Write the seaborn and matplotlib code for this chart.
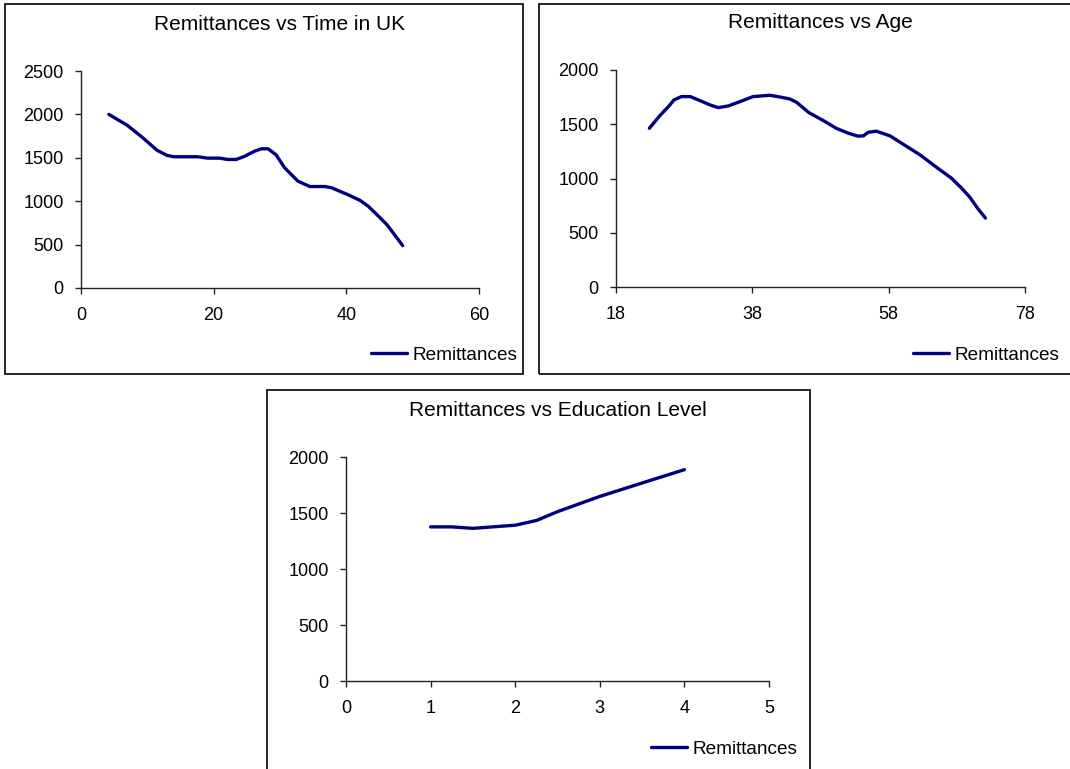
import matplotlib
matplotlib.use("Agg")
import matplotlib.pyplot as plt
from matplotlib.patches import Rectangle
from matplotlib.lines import Line2D
import seaborn as sns
import pandas as pd

# Remittances vs years spent in the UK
time_in_uk = [4.2, 7.0, 9.2, 11.5, 13.0, 14.0, 17.6, 19.1, 20.9, 22.1, 23.4, 24.6,
              26.2, 27.2, 28.2, 29.4, 30.7, 32.7, 34.5, 36.8, 37.8, 40.3, 42.1,
              43.3, 44.6, 46.1, 47.1, 48.5]
remit_time = [2000, 1873, 1738, 1585, 1527, 1512, 1512, 1496, 1496, 1481, 1481, 1515,
              1577, 1604, 1604, 1535, 1385, 1231, 1169, 1169, 1154, 1073, 1008,
              942, 846, 731, 631, 488]

# Remittances vs age of the sender
age = [22.9, 24.4, 25.7, 26.5, 27.6, 28.9, 30.3, 31.8, 33.0, 34.5, 36.2, 38.1,
       40.6, 42.3, 43.5, 44.5, 46.3, 48.5, 50.3, 52.1, 53.5, 54.3, 55.0, 56.2,
       58.2, 59.9, 62.6, 65.2, 67.2, 68.7, 69.9, 71.1, 72.2]
remit_age = [1463, 1577, 1663, 1724, 1755, 1755, 1718, 1678, 1653, 1669, 1709, 1755,
             1767, 1748, 1733, 1702, 1607, 1531, 1463, 1417, 1390, 1393, 1426, 1436,
             1393, 1325, 1218, 1095, 1003, 911, 828, 721, 635]

# Remittances vs education level
education = [1.0, 1.25, 1.5, 2.0, 2.25, 2.5, 3.0, 3.5, 4.0]
remit_edu = [1376, 1376, 1363, 1391, 1433, 1512, 1648, 1768, 1887]

titles = ["Remittances vs Time in UK", "Remittances vs Age", "Remittances vs Education Level"]
series_label = "Remittances"

W, H = 1070, 769
NAVY = "#000080"

sns.set_theme(style="white")
plt.rcParams["font.family"] = ["Liberation Sans", "DejaVu Sans"]
plt.rcParams["text.color"] = "#000000"

fig = plt.figure(figsize=(W / 100, H / 100), dpi=100)
fig.patch.set_facecolor("white")


def fx(px):
    return px / W


def fy(py):
    return (H - py) / H


def panel(box, axbox, x, y, xlim, xticks, ylim, yticks, title, legend_x, legend_y):
    # chart frame
    x0, y0, x1, y1 = box
    fig.patches.append(Rectangle((fx(x0), fy(y1)), fx(x1 - x0), (y1 - y0) / H,
                                 transform=fig.transFigure, fill=False,
                                 edgecolor="#000000", linewidth=1.2, zorder=0))
    l, t, r, b = axbox
    ax = fig.add_axes([fx(l), fy(b), fx(r - l), (b - t) / H])
    df = pd.DataFrame({"x": x, "y": y})
    sns.lineplot(data=df, x="x", y="y", ax=ax, color=NAVY, linewidth=2.4,
                 estimator=None, sort=False)
    ax.set_xlim(*xlim)
    ax.set_ylim(*ylim)
    ax.set_xticks(xticks)
    ax.set_yticks(yticks)
    ax.set_xlabel("")
    ax.set_ylabel("")
    for s in ("top", "right"):
        ax.spines[s].set_visible(False)
    for s in ("left", "bottom"):
        ax.spines[s].set_color("#222222")
        ax.spines[s].set_linewidth(1.0)
    ax.tick_params(axis="both", which="major", direction="out", length=4.5,
                   width=1.0, color="#222222", labelsize=13, labelcolor="#000000",
                   bottom=True, left=True)
    ax.tick_params(axis="x", pad=9)
    ax.tick_params(axis="y", pad=8)
    ax.set_facecolor("white")
    ax.patch.set_alpha(0)
    fig.text(fx((l + r) / 2), fy(24 + t - 71), title, ha="center", va="center",
             fontsize=15, color="#000000")
    handle = Line2D([], [], color=NAVY, linewidth=2.4)
    ax.legend([handle], [series_label], loc="center left",
              bbox_to_anchor=(fx(legend_x), fy(legend_y)),
              bbox_transform=fig.transFigure, frameon=False, fontsize=13.7,
              borderpad=0, borderaxespad=0, handlelength=1.9, handletextpad=0.28,
              labelcolor="#000000")
    return ax


panel((5, 4, 523, 374), (81, 71, 479, 288), time_in_uk, remit_time,
      (0, 60), [0, 20, 40, 60], (0, 2500), [0, 500, 1000, 1500, 2000, 2500],
      titles[0], 371, 355)
panel((539, 4, 1080, 374), (616, 70, 1025, 287), age, remit_age,
      (18, 78), [18, 38, 58, 78], (0, 2000), [0, 500, 1000, 1500, 2000],
      titles[1], 913, 355)
panel((267, 390, 810, 780), (346, 457, 769, 681), education, remit_edu,
      (0, 5), [0, 1, 2, 3, 4, 5], (0, 2000), [0, 500, 1000, 1500, 2000],
      titles[2], 651, 749)

fig.savefig("out.png", dpi=100, facecolor="white")
